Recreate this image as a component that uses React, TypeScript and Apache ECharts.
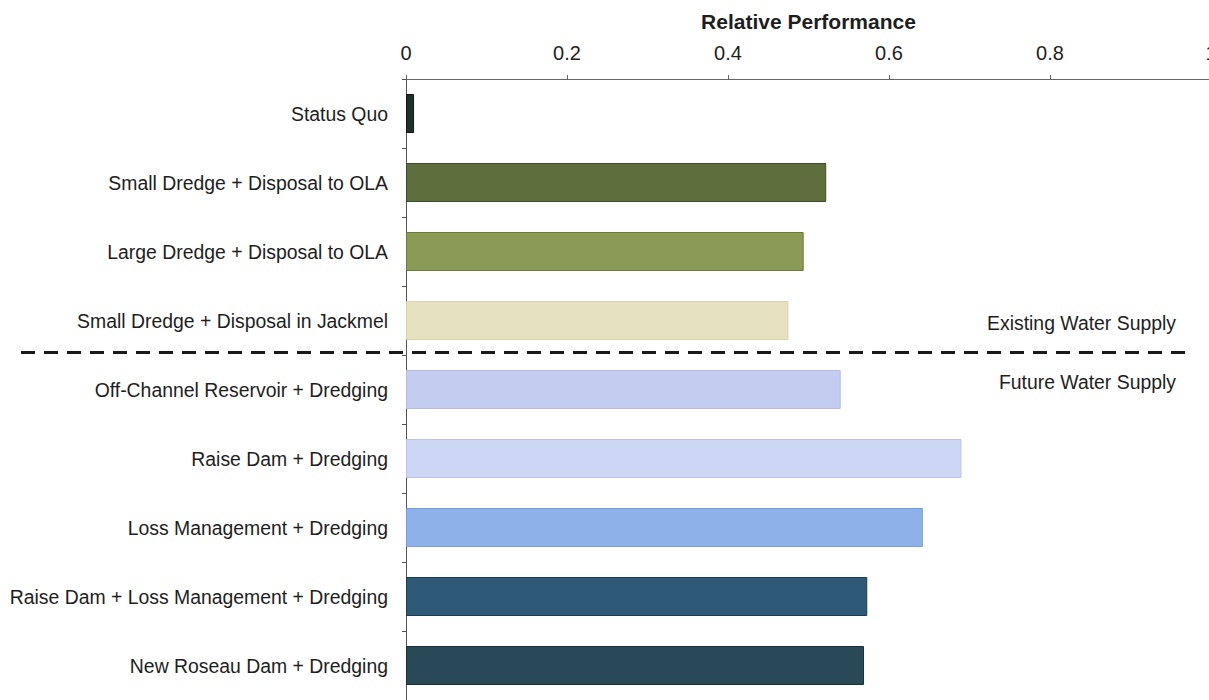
import React, { useEffect, useRef } from "react";
import * as echarts from "echarts";

// Alternatives, listed top to bottom
const categories = [
  "Status Quo",
  "Small Dredge + Disposal to OLA",
  "Large Dredge + Disposal to OLA",
  "Small Dredge + Disposal in Jackmel",
  "Off-Channel Reservoir + Dredging",
  "Raise Dam + Dredging",
  "Loss Management + Dredging",
  "Raise Dam + Loss Management + Dredging",
  "New Roseau Dam + Dredging",
];

// Relative performance score of each alternative
const performance = [0.01, 0.522, 0.494, 0.475, 0.54, 0.69, 0.642, 0.573, 0.569];

// Fill and outline colour of each bar
const barColors = [
  "#22302c",
  "#5f6e3d",
  "#8b9b55",
  "#e6e2bf",
  "#c4ccef",
  "#cdd6f5",
  "#8eb1ea",
  "#2f5a77",
  "#294956",
];
const barBorders = [
  "#101816",
  "#3d4a28",
  "#6a7a3a",
  "#d8d3a8",
  "#b3bbe0",
  "#bcc4e6",
  "#7a9cd6",
  "#1d3d55",
  "#18303a",
];

// Group captions
const groupLabels = ["Existing Water Supply", "Future Water Supply"];

const FONT = "Arial, 'Liberation Sans', Helvetica, sans-serif";

export default function App() {
  const ref = useRef<HTMLDivElement>(null);

  useEffect(() => {
    document.body.style.margin = "0";
    if (!ref.current) return;
    const chart = echarts.init(ref.current, undefined, { renderer: "svg" });

    chart.setOption({
      animation: false,
      backgroundColor: "#ffffff",
      grid: {
        left: 406,
        top: 79,
        width: 805,
        height: 621,
        containLabel: false,
        outerBoundsMode: "none",
      },
      xAxis: {
        type: "value",
        position: "top",
        min: 0,
        max: 1,
        interval: 0.2,
        name: "Relative Performance",
        nameLocation: "middle",
        nameGap: 47,
        nameTextStyle: { fontFamily: FONT, fontSize: 21, fontWeight: "bold", color: "#1e1e1e" },
        axisLine: { show: true, lineStyle: { color: "#666", width: 1 } },
        axisTick: { show: true, length: 4, lineStyle: { color: "#666" } },
        axisLabel: { fontFamily: FONT, fontSize: 20, color: "#1e1e1e", margin: 16 },
        splitLine: { show: false },
      },
      yAxis: {
        type: "category",
        inverse: true,
        data: categories,
        axisLine: { show: true, lineStyle: { color: "#555", width: 1 } },
        axisTick: { show: true, length: 4, lineStyle: { color: "#555" } },
        axisLabel: { fontFamily: FONT, fontSize: 19.4, color: "#1e1e1e", margin: 18 },
        splitLine: { show: false },
      },
      series: [
        {
          type: "bar",
          barWidth: 39,
          data: performance.map((v, i) => ({
            value: v,
            itemStyle: { color: barColors[i], borderColor: barBorders[i], borderWidth: 1 },
          })),
        },
      ],
      graphic: [
        {
          type: "line",
          shape: { x1: 21, y1: 352.5, x2: 1192, y2: 352.5 },
          style: { stroke: "#1a1a1a", lineWidth: 3, lineDash: [14, 9] },
          z: 10,
        },
        {
          type: "text",
          x: 1176,
          y: 323,
          style: {
            text: groupLabels[0],
            align: "right",
            verticalAlign: "middle",
            fontFamily: FONT,
            fontSize: 19.4,
            fill: "#1e1e1e",
          },
        },
        {
          type: "text",
          x: 1176,
          y: 382,
          style: {
            text: groupLabels[1],
            align: "right",
            verticalAlign: "middle",
            fontFamily: FONT,
            fontSize: 19.4,
            fill: "#1e1e1e",
          },
        },
      ],
    });

    return () => chart.dispose();
  }, []);

  return <div ref={ref} style={{ width: 1209, height: 700 }} />;
}
